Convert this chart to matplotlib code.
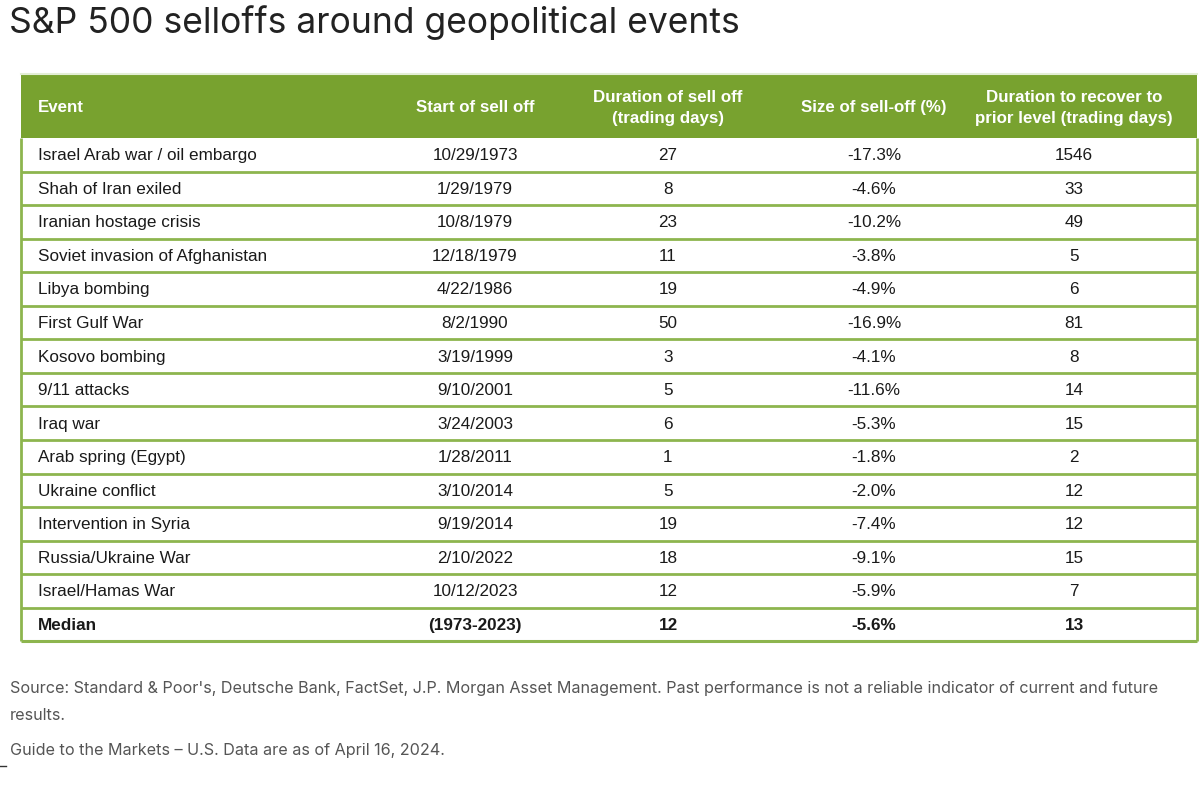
import matplotlib
matplotlib.use('Agg')
import matplotlib.pyplot as plt
from matplotlib.patches import Rectangle

# Table data
headers = ['Event', 'Start of sell off', 'Duration of sell off\n(trading days)',
           'Size of sell-off (%)', 'Duration to recover to\nprior level (trading days)']
events = ['Israel Arab war / oil embargo', 'Shah of Iran exiled', 'Iranian hostage crisis',
          'Soviet invasion of Afghanistan', 'Libya bombing', 'First Gulf War', 'Kosovo bombing',
          '9/11 attacks', 'Iraq war', 'Arab spring (Egypt)', 'Ukraine conflict',
          'Intervention in Syria', 'Russia/Ukraine War', 'Israel/Hamas War']
start_dates = ['10/29/1973', '1/29/1979', '10/8/1979', '12/18/1979', '4/22/1986', '8/2/1990',
               '3/19/1999', '9/10/2001', '3/24/2003', '1/28/2011', '3/10/2014', '9/19/2014',
               '2/10/2022', '10/12/2023']
selloff_days = [27, 8, 23, 11, 19, 50, 3, 5, 6, 1, 5, 19, 18, 12]
selloff_size = [-17.3, -4.6, -10.2, -3.8, -4.9, -16.9, -4.1, -11.6, -5.3, -1.8, -2.0, -7.4, -9.1, -5.9]
recover_days = [1546, 33, 49, 5, 6, 81, 8, 14, 15, 2, 12, 12, 15, 7]
median_row = ['Median', '(1973-2023)', '12', '-5.6%', '13']

GREEN = '#78a22f'
LINE = '#8db54e'
TEXT = '#1a1a1a'

W, H = 1200, 788
fig = plt.figure(figsize=(W / 100, H / 100), dpi=100)
ax = fig.add_axes([0, 0, 1, 1])
ax.set_xlim(0, W)
ax.set_ylim(H, 0)
ax.axis('off')

# title
ax.text(9, 23, 'S&P 500 selloffs around geopolitical events', fontsize=25.5,
        family='Inter', color='#222222', va='center', ha='left')

# table geometry (pixels)
left, right = 21, 1197
head_top, head_bot = 75, 138
row_h = 33.55
col_x = [38, 475, 668, 874, 1074]
col_ha = ['left', 'center', 'center', 'center', 'center']

ax.add_patch(Rectangle((left, head_top), right - left, head_bot - head_top,
                       facecolor=GREEN, edgecolor='none'))
ax.plot([left, right], [head_top - 1.5, head_top - 1.5], color='#e3eed5', lw=1.5)
for x, ha, h in zip(col_x, col_ha, headers):
    ax.text(x, (head_top + head_bot) / 2 + 1, h, fontsize=12.2, family='Liberation Sans',
            fontweight='bold', color='white', ha=ha, va='center', linespacing=1.5)

rows = []
for e, d, n, s, r in zip(events, start_dates, selloff_days, selloff_size, recover_days):
    rows.append([e, d, str(n), f'{s:.1f}%', str(r)])
rows.append(median_row)

table_bot = head_bot + row_h * len(rows)
for i, row in enumerate(rows):
    y0 = head_bot + i * row_h
    yc = y0 + row_h / 2 + 1
    bold = i == len(rows) - 1
    for x, ha, val in zip(col_x, col_ha, row):
        ax.text(x, yc, val, fontsize=12.3, family='Liberation Sans', color=TEXT,
                fontweight='bold' if bold else 'normal', ha=ha, va='center')
    if i > 0:
        ax.plot([left, right], [y0, y0], color=LINE, lw=2, solid_capstyle='butt')

ax.plot([left, right], [table_bot, table_bot], color=LINE, lw=2.2, solid_capstyle='butt')
ax.plot([left, left], [head_bot, table_bot], color=LINE, lw=2, solid_capstyle='butt')
ax.plot([right, right], [head_bot, table_bot], color=LINE, lw=2, solid_capstyle='butt')

# footnotes
ax.text(10, 689, "Source: Standard & Poor's, Deutsche Bank, FactSet, J.P. Morgan Asset Management. "
        "Past performance is not a reliable indicator of current and future", fontsize=11.65,
        family='Inter', color='#555555', ha='left', va='center')
ax.text(10, 715, 'results.', fontsize=11.65, family='Inter', color='#555555', ha='left', va='center')
ax.text(10, 751, 'Guide to the Markets – U.S. Data are as of April 16, 2024.', fontsize=11.65,
        family='Inter', color='#555555', ha='left', va='center')
ax.plot([0, 6], [766, 766], color='#333333', lw=1)

fig.savefig('out.png', dpi=100)
